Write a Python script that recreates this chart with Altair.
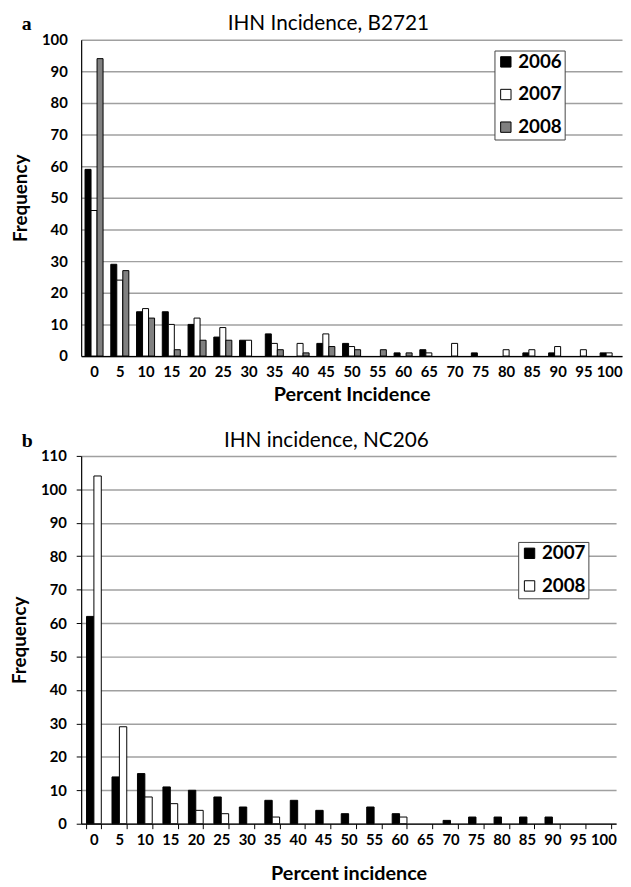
import altair as alt
import pandas as pd

pct = list(range(0, 101, 5))
a_years = ["2006", "2007", "2008"]
a_2006 = [59, 29, 14, 14, 10, 6, 5, 7, 0, 4, 4, 0, 1, 2, 0, 1, 0, 1, 1, 0, 1]
a_2007 = [46, 24, 15, 10, 12, 9, 5, 4, 4, 7, 3, 0, 0, 1, 4, 0, 2, 2, 3, 2, 1]
a_2008 = [94, 27, 12, 2, 5, 5, 0, 2, 1, 3, 2, 2, 1, 0, 0, 0, 0, 0, 0, 0, 0]
b_years = ["2007", "2008"]
b_2007 = [62, 14, 15, 11, 10, 8, 5, 7, 7, 4, 3, 5, 3, 0, 1, 2, 2, 2, 2, 0, 0]
b_2008 = [104, 29, 8, 6, 4, 3, 0, 2, 0, 0, 0, 0, 2, 0, 0, 0, 0, 0, 0, 0, 0]

FONT = "Lato"


def long(series):
    rows = []
    for year, vals in series:
        for p, v in zip(pct, vals):
            rows.append({"pct": p, "year": year, "value": v})
    return pd.DataFrame(rows)


df_a = long(zip(a_years, [a_2006, a_2007, a_2008]))
df_b = long(zip(b_years, [b_2007, b_2008]))


def panel(df, years, colors, title, xtitle, ymax, width, height, pad_inner,
          ticks, legend_x, legend_y, letter, title_x, top_y, x_title_pad):
    bars = alt.Chart(df).transform_filter("datum.value > 0").mark_bar(
        stroke="black", strokeWidth=1
    ).encode(
        x=alt.X(
            "pct:O",
            title=xtitle,
            scale=alt.Scale(domain=pct, paddingInner=pad_inner,
                            paddingOuter=pad_inner / 2),
            axis=alt.Axis(
                labelAngle=0, ticks=ticks, tickBand="extent", tickSize=5,
                tickColor="black", domainColor="black", domainWidth=1.2,
                labelFont=FONT, labelFontSize=15, labelFontWeight="bold",
                labelColor="black", labelPadding=4 if ticks else 9,
                titleFont=FONT, titleFontSize=20, titleFontWeight="bold",
                titleColor="black", titlePadding=x_title_pad,
            ),
        ),
        xOffset=alt.XOffset(
            "year:N", scale=alt.Scale(domain=years, paddingInner=0, paddingOuter=0)
        ),
        y=alt.Y(
            "value:Q",
            title="Frequency",
            scale=alt.Scale(domain=[0, ymax], nice=False),
            axis=alt.Axis(
                values=list(range(0, ymax + 1, 10)), grid=True,
                gridColor="#a0a0a0", gridWidth=1.5, ticks=ticks, tickSize=5,
                tickColor="black", domainColor="black", domainWidth=1.2,
                labelFont=FONT, labelFontSize=15, labelFontWeight="bold",
                labelColor="black", labelPadding=10 if ticks else 14,
                titleFont=FONT, titleFontSize=19, titleFontWeight="bold",
                titleColor="black", titlePadding=11,
            ),
        ),
        fill=alt.Fill(
            "year:N",
            scale=alt.Scale(domain=years, range=colors),
            legend=alt.Legend(
                title=None, orient="none", legendX=legend_x, legendY=legend_y,
                symbolType="square", symbolSize=110, symbolStrokeColor="black",
                symbolStrokeWidth=1, labelFont=FONT, labelFontSize=19,
                labelFontWeight="bold", labelColor="black", rowPadding=13,
                padding=2, strokeColor="#444444", fillColor="white",
                labelOffset=3,
            ),
        ),
    )
    head = pd.DataFrame({"t": [title]})
    ttl = alt.Chart(head).mark_text(
        font=FONT, fontSize=21, fontWeight="normal", align="center",
        baseline="middle", color="black"
    ).encode(text="t:N", x=alt.value(title_x), y=alt.value(top_y))
    lab = alt.Chart(pd.DataFrame({"t": [letter]})).mark_text(
        font="Liberation Serif", fontSize=20, fontWeight="bold", align="left",
        baseline="middle", color="black"
    ).encode(text="t:N", x=alt.value(-60), y=alt.value(top_y))
    return alt.layer(bars, ttl, lab).properties(width=width, height=height)


pa = panel(df_a, a_years, ["black", "white", "#808080"], "IHN Incidence, B2721",
           "Percent Incidence", 100, 547, 320, 0.3, False, 418, 11, "a", 250,
           -16, 5)
pb = panel(df_b, b_years, ["black", "white"], "IHN incidence, NC206",
           "Percent incidence", 110, 541, 372, 0.42, True, 442, 87, "b", 248,
           -15, 16)

chart = alt.vconcat(pa, pb, spacing=26).resolve_scale(
    x="independent", y="independent", fill="independent", xOffset="independent"
).resolve_legend(fill="independent").properties(
    padding={"left": 2, "top": 0, "right": 0, "bottom": 0}
).configure_view(stroke=None)

chart.save("out.html", embed_options={"renderer": "svg", "actions": False})
